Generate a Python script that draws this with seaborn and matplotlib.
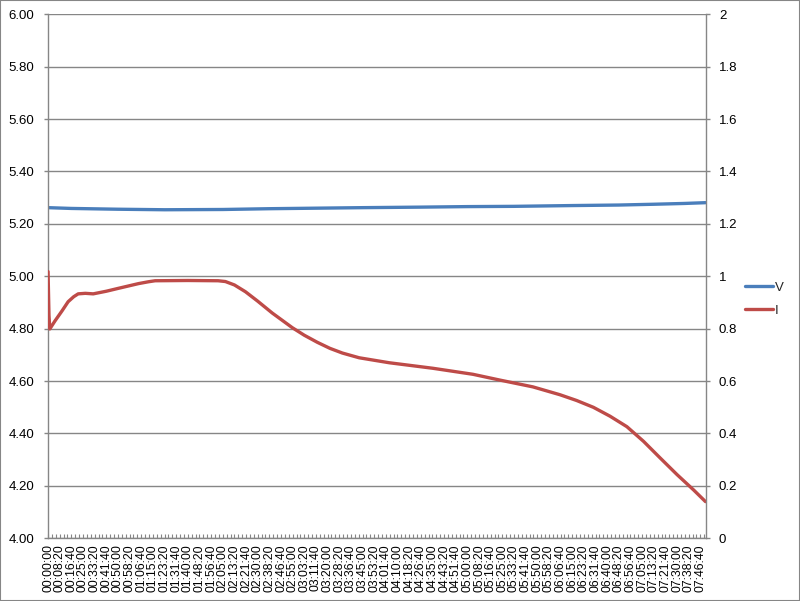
import matplotlib
matplotlib.use("Agg")
import matplotlib.pyplot as plt
from matplotlib.patches import Rectangle
from matplotlib.ticker import MultipleLocator, FuncFormatter
import seaborn as sns

# elapsed time in seconds
v_time = [0, 1000, 3000, 5000, 7500, 9500, 11500, 13500, 16000, 18000,
          20000, 22500, 24500, 26000, 27300, 28221]
v_vals = [5.262, 5.259, 5.256, 5.254, 5.255, 5.258, 5.260, 5.262, 5.264, 5.266,
          5.267, 5.270, 5.272, 5.275, 5.278, 5.281]

i_time = [0, 40, 75, 300, 600, 862, 1100, 1293, 1600, 1939, 2500, 3016,
          3878, 4300, 4597, 6000, 7300, 7613, 8000, 8475, 9000, 9621, 10483, 11000, 11560,
          12100, 12637, 13356, 14649, 16514, 18238, 19388, 20810, 21973, 22689, 23408,
          24124, 24847, 25562, 26282, 27001, 27717, 28221]
i_vals = [1.018, 0.85, 0.799, 0.83, 0.868, 0.903, 0.922, 0.933, 0.935, 0.933, 0.943, 0.954,
          0.972, 0.979, 0.983, 0.984, 0.983, 0.980, 0.967, 0.941, 0.905, 0.860, 0.804, 0.775, 0.748,
          0.725, 0.707, 0.689, 0.670, 0.649, 0.626, 0.604, 0.578, 0.548, 0.526, 0.500,
          0.466, 0.426, 0.370, 0.306, 0.243, 0.184, 0.140]

series_names = ["V", "I"]
BLUE = "#4A7EBB"
RED = "#BE4B48"
GRAY = "#868686"

sns.set_style("white")
plt.rcParams["font.family"] = ["Liberation Sans", "DejaVu Sans"]


def hms(x, pos):
    s = int(round(x))
    return "%02d:%02d:%02d" % (s // 3600, (s % 3600) // 60, s % 60)


fig = plt.figure(figsize=(8, 6.01), dpi=100)
ax = fig.add_axes([47.7 / 800, 1 - 538.3 / 601, (705.7 - 47.7) / 800, (538.3 - 14.3) / 601])

sns.lineplot(x=v_time, y=v_vals, ax=ax, color=BLUE, lw=2.4, legend=False)
ax2 = ax.twinx()
sns.lineplot(x=i_time, y=i_vals, ax=ax2, color=RED, lw=2.4, legend=False)

ax.set_xlim(-15, 28230)
ax.set_ylim(4, 6)
ax2.set_ylim(0, 2)

ax.yaxis.set_major_locator(MultipleLocator(0.2))
ax.yaxis.set_major_formatter(FuncFormatter(lambda y, p: "%.2f" % y))
ax2.yaxis.set_major_locator(MultipleLocator(0.2))
ax2.yaxis.set_major_formatter(FuncFormatter(lambda y, p: "%g" % round(y, 1)))

ax.xaxis.set_major_locator(MultipleLocator(500))
ax.xaxis.set_minor_locator(MultipleLocator(500 / 3))
ax.xaxis.set_major_formatter(FuncFormatter(hms))

ax.grid(False)
ax2.grid(False)
ax.yaxis.grid(True, color=GRAY, lw=1)
ax.set_axisbelow(True)

for a in (ax, ax2):
    for side in a.spines:
        a.spines[side].set_color(GRAY)
        a.spines[side].set_linewidth(1)
    a.spines["top"].set_visible(False)
    a.set_xlabel("")
    a.set_ylabel("")
ax.spines["right"].set_visible(False)
ax2.spines["left"].set_visible(False)
ax2.spines["bottom"].set_visible(False)

ax.tick_params(axis="y", left=True, length=3, width=1, color=GRAY, pad=6.8,
               labelsize=9.5, labelcolor="black")
ax2.tick_params(axis="y", right=True, length=3, width=1, color=GRAY, pad=6.5,
                labelsize=9.5, labelcolor="black")
ax.tick_params(axis="x", which="both", bottom=True, direction="in", length=3,
               width=0.8, color=GRAY, pad=4.3, labelsize=8.7, labelrotation=90,
               labelcolor="black")
for lbl in ax.get_xticklabels():
    lbl.set_va("top")
    lbl.set_ha("center")

handles = [ax.lines[0], ax2.lines[0]]
fig.legend(handles, series_names, loc="center left", bbox_to_anchor=(745 / 800, 1 - 299 / 601),
           frameon=False, fontsize=9.5, handlelength=2.1, handletextpad=0.15,
           labelspacing=0.8, borderpad=0, borderaxespad=0)

fig.patches.append(Rectangle((0, 0), 1, 1, transform=fig.transFigure, fill=False,
                             ec=GRAY, lw=1.5))

fig.savefig("out.png", dpi=100)
